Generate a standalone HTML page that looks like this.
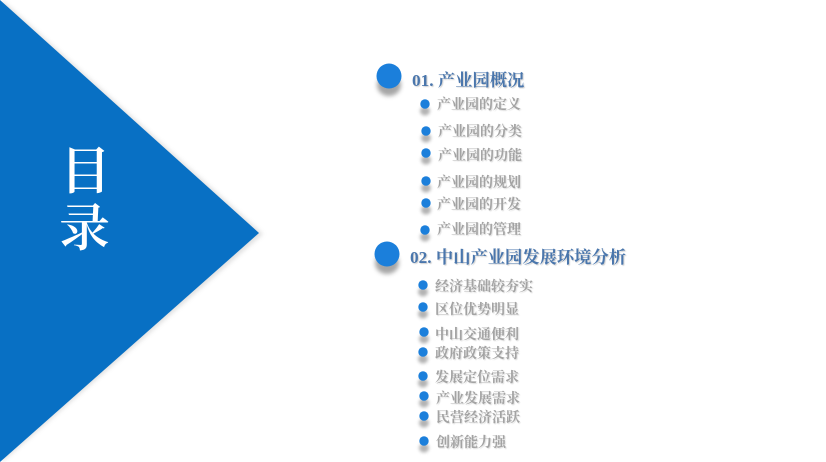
<!DOCTYPE html>
<html lang="zh"><head><meta charset="utf-8"><style>
html,body{margin:0;padding:0;background:#fff}
#p{position:relative;width:826px;height:462px;overflow:hidden;background:#fff;font-family:"Liberation Serif","Noto Serif CJK SC",serif}
svg{position:absolute;left:0;top:0}
.t{position:absolute;white-space:nowrap;line-height:20px;height:20px;filter:blur(.3px)}
.h{color:#4a76ac;font-size:17.3px;font-weight:700;text-shadow:1px 1px 1px rgba(120,120,120,.35)}
.i{color:#a3a3a3;font-size:14px;font-weight:700;text-shadow:1px 1px 1px rgba(150,150,150,.3)}
.m{position:absolute;color:#fff;font-size:51px;line-height:51px;font-family:"Noto Serif CJK SC",serif;font-weight:600}
</style></head><body><div id="p">
<svg width="826" height="462" viewBox="0 0 826 462">
<defs>
<filter id="b1" x="-50%" y="-50%" width="200%" height="200%"><feGaussianBlur stdDeviation="2.2"/></filter>
<filter id="b2" x="-80%" y="-80%" width="260%" height="260%"><feGaussianBlur stdDeviation="1.6"/></filter>
<filter id="b3" x="-10%" y="-10%" width="120%" height="120%"><feGaussianBlur stdDeviation="2"/></filter>
</defs>
<polygon points="2,0 263,234 2,462" fill="#a8a8a8" opacity=".35" filter="url(#b3)"/>
<polygon points="0,0 259,233 0,462" fill="#0870c4"/>
<g fill="#6a6a6a" opacity=".6" filter="url(#b1)">
<ellipse cx="389" cy="85" rx="12" ry="11"/><ellipse cx="387" cy="263" rx="12" ry="11"/>
</g>
<circle cx="389" cy="76" r="12.5" fill="#1b7fdb"/>
<circle cx="387" cy="254" r="12.5" fill="#1b7fdb"/>
<g fill="#8a8a8a" opacity=".65" filter="url(#b2)">
<ellipse cx="425" cy="111" rx="5" ry="4.5"/><ellipse cx="426" cy="138" rx="5" ry="4.5"/><ellipse cx="426" cy="160" rx="5" ry="4.5"/><ellipse cx="426" cy="188" rx="5" ry="4.5"/><ellipse cx="426" cy="210" rx="5" ry="4.5"/><ellipse cx="425" cy="237" rx="5" ry="4.5"/>
<ellipse cx="423" cy="292" rx="5" ry="4.5"/><ellipse cx="423" cy="314" rx="5" ry="4.5"/><ellipse cx="424" cy="339" rx="5" ry="4.5"/><ellipse cx="423" cy="359" rx="5" ry="4.5"/><ellipse cx="423" cy="383" rx="5" ry="4.5"/><ellipse cx="424" cy="403" rx="5" ry="4.5"/><ellipse cx="424" cy="423" rx="5" ry="4.5"/><ellipse cx="424" cy="448" rx="5" ry="4.5"/>
</g>
<g fill="#1b7fdb">
<circle cx="425" cy="104" r="4.7"/><circle cx="426" cy="131" r="4.7"/><circle cx="426" cy="153" r="4.7"/><circle cx="426" cy="181" r="4.7"/><circle cx="426" cy="203" r="4.7"/><circle cx="425" cy="230" r="4.7"/>
<circle cx="423" cy="285" r="4.7"/><circle cx="423" cy="307" r="4.7"/><circle cx="424" cy="332" r="4.7"/><circle cx="423" cy="352" r="4.7"/><circle cx="423" cy="376" r="4.7"/><circle cx="424" cy="396" r="4.7"/><circle cx="424" cy="416" r="4.7"/><circle cx="424" cy="441" r="4.7"/>
</g>
</svg>
<div class="m" style="left:60px;top:142px">目</div>
<div class="m" style="left:59px;top:199px">录</div>
<div class="t h" style="left:412px;top:71px">01. 产业园概况</div>
<div class="t i" style="left:437px;top:96px">产业园的定义</div>
<div class="t i" style="left:438px;top:123px">产业园的分类</div>
<div class="t i" style="left:438px;top:147px">产业园的功能</div>
<div class="t i" style="left:437px;top:174px">产业园的规划</div>
<div class="t i" style="left:437px;top:196px">产业园的开发</div>
<div class="t i" style="left:437px;top:221px">产业园的管理</div>
<div class="t h" style="left:410px;top:248px">02. 中山产业园发展环境分析</div>
<div class="t i" style="left:435px;top:278px">经济基础较夯实</div>
<div class="t i" style="left:435px;top:301px">区位优势明显</div>
<div class="t i" style="left:435px;top:326px">中山交通便利</div>
<div class="t i" style="left:435px;top:345px">政府政策支持</div>
<div class="t i" style="left:435px;top:369px">发展定位需求</div>
<div class="t i" style="left:436px;top:390px">产业发展需求</div>
<div class="t i" style="left:436px;top:409px">民营经济活跃</div>
<div class="t i" style="left:436px;top:434px">创新能力强</div>
</div></body></html>
